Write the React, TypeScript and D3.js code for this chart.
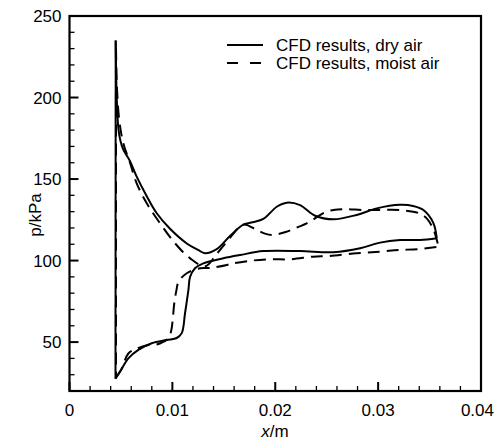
import React from "react";
import * as d3 from "d3";

const W = 495;
const H = 441;

const xTicks = [0, 0.01, 0.02, 0.03, 0.04];
const xTickLabels = ["0", "0.01", "0.02", "0.03", "0.04"];
const yTicks = [50, 100, 150, 200, 250];
const yTickLabels = ["50", "100", "150", "200", "250"];

const seriesNames = ["CFD results, dry air", "CFD results, moist air"];

// dry air, upper branch (left to right, from the peak)
const dryUpperX = [0.00449, 0.00459, 0.00475, 0.00495, 0.00523, 0.00588, 0.00653, 0.00751, 0.00848, 0.00977, 0.0114, 0.0125, 0.01317, 0.01431, 0.0156, 0.0169, 0.0178, 0.01884, 0.02015, 0.02112, 0.02241, 0.02387, 0.02565, 0.02792, 0.02987, 0.03213, 0.0334, 0.0344, 0.03537, 0.0357];
const dryUpperP = [235, 200, 181, 173.5, 168, 161, 151.5, 139.5, 129, 119.5, 110.5, 106.5, 104.5, 107, 115, 122, 123.5, 125.5, 133, 135.5, 134, 127.5, 125.3, 128, 132, 134.2, 133.5, 131, 123, 113.7];
// dry air, lower branch (from the bottom of the vertical drop)
const dryLowerX = [0.00447, 0.00491, 0.00572, 0.00669, 0.00799, 0.00945, 0.01042, 0.01091, 0.01123, 0.01156, 0.01172, 0.0122, 0.01301, 0.01495, 0.01658, 0.01884, 0.02241, 0.02565, 0.02825, 0.03019, 0.03213, 0.03408, 0.0357];
const dryLowerP = [27.5, 31.8, 40, 45.2, 49.3, 51.3, 52.5, 55.5, 67.7, 82, 90, 95.3, 98.3, 101.4, 103.4, 105.8, 105.8, 105.1, 107.5, 111, 112.6, 112.6, 113.7];

// moist air, upper branch
const moistUpperX = [0.00452, 0.00462, 0.00484, 0.00523, 0.00588, 0.00653, 0.00751, 0.0088, 0.01026, 0.0117, 0.0132, 0.0143, 0.0156, 0.0169, 0.018, 0.019, 0.0198, 0.021, 0.0222, 0.0231, 0.025, 0.0265, 0.0285, 0.03, 0.032, 0.034, 0.0347, 0.0354, 0.0359];
const moistUpperP = [230, 205, 186, 172, 160, 147.4, 135.1, 122.9, 110.6, 101.5, 96.5, 104, 114, 122, 119.5, 116.5, 115.7, 117.5, 120.5, 122.9, 130, 131.5, 131, 131, 131, 129, 126, 118.8, 107.5];
// moist air, lower branch
const moistLowerX = [0.00452, 0.00502, 0.00572, 0.00637, 0.00766, 0.00848, 0.0096, 0.0099, 0.01003, 0.01019, 0.0104, 0.0106, 0.0114, 0.0127, 0.0137, 0.0153, 0.0159, 0.0176, 0.0195, 0.0215, 0.0237, 0.0253, 0.0279, 0.0302, 0.0321, 0.0338, 0.0359];
const moistLowerP = [28.5, 33, 43, 45.5, 48.2, 48.5, 52.3, 57.4, 63.6, 74, 82, 87, 92.2, 95.3, 95.5, 97.3, 98.3, 99.9, 100.8, 100.8, 102.4, 102.8, 104.5, 105.5, 106.5, 107, 108.5];

const FONT = "'Liberation Sans', Arial, sans-serif";

export default function App() {
  const x = d3.scaleLinear().domain([0, 0.04]).range([69.5, 481]);
  const y = d3.scaleLinear().domain([20, 250]).range([391, 16]);

  const curve = d3
    .line<[number, number]>()
    .x((d) => x(d[0]))
    .y((d) => y(d[1]))
    .curve(d3.curveCatmullRom.alpha(0.5));
  const straight = d3
    .line<[number, number]>()
    .x((d) => x(d[0]))
    .y((d) => y(d[1]));

  const zip = (xs: number[], ps: number[]) => xs.map((v, i) => [v, ps[i]] as [number, number]);

  const dryUpper = zip(dryUpperX, dryUpperP);
  const dryLower = zip(dryLowerX, dryLowerP);
  const dryDrop = [dryUpper[0], dryLower[0]];
  const moistUpper = zip(moistUpperX, moistUpperP);
  const moistLower = zip(moistLowerX, moistLowerP);
  const moistDrop = [moistUpper[0], moistLower[0]];

  const xMinor = d3.range(0, 0.04001, 0.002).filter((v) => !xTicks.some((t) => Math.abs(t - v) < 1e-9));
  const yMinor = d3.range(30, 250, 10).filter((v) => v % 50 !== 0);

  const [x0, x1] = x.range();
  const [yb, yt] = y.range();

  const dash = "12,7";

  return (
    <svg width={W} height={H} style={{ position: "absolute", left: 0, top: 0, background: "#fff" }} fontFamily={FONT}>
      <rect x={0} y={0} width={W} height={H} fill="#fff" />
      {/* curves */}
      <g fill="none" stroke="#000" strokeWidth={2} strokeLinejoin="round">
        <path d={curve(moistUpper) || ""} strokeDasharray={dash} />
        <path d={straight(moistDrop) || ""} strokeDasharray={dash} />
        <path d={curve(moistLower) || ""} strokeDasharray={dash} />
        <path d={curve(dryUpper) || ""} />
        <path d={straight(dryDrop) || ""} />
        <path d={curve(dryLower) || ""} />
      </g>
      {/* ticks */}
      <g stroke="#000" strokeWidth={2}>
        {xTicks.map((t) => (
          <line key={"xt" + t} x1={x(t)} x2={x(t)} y1={yb} y2={yb - 9} />
        ))}
        {xMinor.map((t) => (
          <line key={"xm" + t} x1={x(t)} x2={x(t)} y1={yb} y2={yb - 5} strokeWidth={1.3} />
        ))}
        {yTicks.map((t) => (
          <line key={"yt" + t} x1={x0} x2={x0 + 9} y1={y(t)} y2={y(t)} />
        ))}
        {yMinor.map((t) => (
          <line key={"ym" + t} x1={x0} x2={x0 + 5} y1={y(t)} y2={y(t)} strokeWidth={1.3} />
        ))}
      </g>
      {/* frame */}
      <rect x={x0} y={yt} width={x1 - x0} height={yb - yt} fill="none" stroke="#000" strokeWidth={2.2} />
      {/* tick labels */}
      <g fontSize={17} fill="#000">
        {xTicks.map((t, i) => {
          const last = i === xTicks.length - 1;
          return (
            <text key={"xl" + t} x={last ? W - 1 : x(t)} y={yb + 25} textAnchor={last ? "end" : "middle"}>
              {xTickLabels[i]}
            </text>
          );
        })}
        {yTicks.map((t, i) => (
          <text key={"yl" + t} x={x0 - 8} y={y(t) + 6} textAnchor="end">
            {yTickLabels[i]}
          </text>
        ))}
      </g>
      {/* axis titles */}
      <text x={275} y={437} textAnchor="middle" fontSize={17}>
        <tspan fontStyle="italic">x</tspan>/m
      </text>
      <text transform={`translate(41,215) rotate(-90)`} textAnchor="middle" fontSize={17}>
        p/kPa
      </text>
      {/* legend */}
      <g stroke="#000" strokeWidth={2}>
        <line x1={227} x2={263} y1={45} y2={45} />
        <line x1={227} x2={261} y1={63} y2={63} strokeDasharray="11,12" />
      </g>
      <g fontSize={17} fill="#000">
        <text x={276} y={51}>{seriesNames[0]}</text>
        <text x={276} y={69}>{seriesNames[1]}</text>
      </g>
    </svg>
  );
}
